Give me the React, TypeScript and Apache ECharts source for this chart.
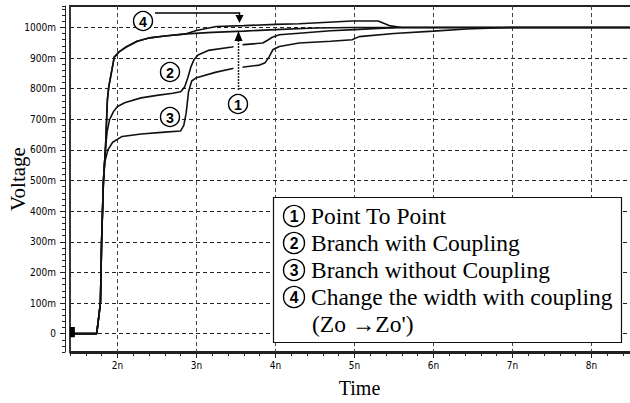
import React, { useEffect, useRef } from "react";
import * as echarts from "echarts";

// ---- data (time in ns, voltage in mV) ----
const xTickValues = [2, 3, 4, 5, 6, 7, 8];
const yTickValues = [0, 100, 200, 300, 400, 500, 600, 700, 800, 900, 1000];

const startMarker = [[1.43, -12], [1.43, 22]];

const pointToPoint = [
  [1.42, 0], [1.738, 0], [1.785, 100], [1.8, 300], [1.823, 500], [1.848, 600], [1.873, 763],
  [1.89, 805], [1.96, 903], [2.03, 922], [2.11, 936], [2.25, 955], [2.41, 966], [2.6, 972],
  [2.87, 979], [3.2, 984], [3.6, 988], [4.0, 993], [4.5, 998], [5.0, 1000], [8.5, 1000],
];

const branchWithCoupling = [
  [1.42, 0], [1.738, 0], [1.785, 100], [1.8, 300], [1.823, 500], [1.848, 600], [1.87, 660],
  [1.9, 698], [1.95, 725], [2.0, 742], [2.1, 755], [2.3, 770], [2.5, 778], [2.7, 785],
  [2.8, 790], [2.85, 805], [2.89, 835], [2.93, 871], [2.97, 895], [3.02, 910], [3.15, 925],
  [3.45, 936], [3.6, 944], [3.84, 949], [3.9, 958], [3.96, 968], [4.05, 976], [4.3, 981],
  [4.7, 989], [5.0, 993], [5.3, 997], [5.6, 1000], [8.5, 1000],
];

const branchWithoutCoupling = [
  [1.42, 0], [1.738, 0], [1.785, 100], [1.8, 300], [1.823, 490], [1.84, 560], [1.88, 600],
  [1.94, 625], [2.06, 644], [2.3, 652], [2.6, 658], [2.8, 662], [2.84, 680], [2.87, 720],
  [2.9, 790], [2.94, 825], [3.0, 836], [3.25, 854], [3.46, 866], [3.6, 871], [3.8, 877],
  [3.87, 885], [3.92, 904], [3.97, 928], [4.05, 938], [4.3, 949], [4.7, 955], [4.97, 960],
  [5.06, 970], [5.5, 980], [6.0, 988], [6.42, 995], [7.0, 1000], [8.5, 1000],
];

const changeWidth = [
  [1.42, 0], [1.738, 0], [1.785, 100], [1.8, 300], [1.823, 500], [1.848, 600], [1.873, 763],
  [1.89, 805], [1.96, 903], [2.03, 922], [2.11, 936], [2.25, 955], [2.41, 966], [2.6, 972],
  [2.87, 979], [3.0, 990], [3.25, 1003], [3.6, 1006], [4.0, 1010], [4.3, 1012], [4.97, 1021],
  [5.3, 1021], [5.44, 1006], [5.6, 1000], [8.5, 1000],
];

const legendNums = ["1", "2", "3", "4"];
const legendItems = [
  "Point To Point",
  "Branch with Coupling",
  "Branch without Coupling",
  "Change the width with coupling",
];
const legendExtra = "(Zo →Zo')";

const SERIF = "Liberation Serif";
const SANS = "Liberation Sans";
const NARROW = "DejaVu Sans Condensed";

export default function App() {
  const ref = useRef<HTMLDivElement>(null);

  useEffect(() => {
    if (!ref.current) return;
    const chart = echarts.init(ref.current, undefined, { renderer: "svg" });

    const lineSeries = (name: string, data: number[][]) => ({
      name,
      type: "line",
      data,
      xAxisIndex: 0,
      yAxisIndex: 0,
      showSymbol: false,
      symbol: "none",
      lineStyle: { color: "#111", width: 1.6 },
      z: 5,
    });

    // circled number: circle + digit
    const circ = (t: string, x: number, y: number, r: number, z: number) => [
      { type: "circle", z, shape: { cx: x, cy: y, r }, style: { fill: "#fff", stroke: "#000", lineWidth: 1.4 } },
      {
        type: "text", z: z + 1, x, y: y + 0.5,
        style: { text: t, fontFamily: SANS, fontSize: r * 1.5, fontWeight: "bold", fill: "#000", align: "center", verticalAlign: "middle" },
      },
    ];

    const legendLineY = [216, 243, 270, 297];
    const graphics: any[] = [
      // white gap behind arrow 1
      { type: "rect", z: 50, shape: { x: 233.5, y: 40, width: 9, height: 34 }, style: { fill: "#fff" } },
      // arrow 4
      { type: "polyline", z: 60, shape: { points: [[155, 13], [239.5, 13], [239.5, 17]] }, style: { stroke: "#000", lineWidth: 1.5, fill: null } },
      { type: "polygon", z: 60, shape: { points: [[235.5, 15], [243.5, 15], [239.5, 23]] }, style: { fill: "#000" } },
      // arrow 1
      { type: "line", z: 60, shape: { x1: 238.5, y1: 90, x2: 238.5, y2: 38 }, style: { stroke: "#222", lineWidth: 1.5, lineDash: [2, 1] } },
      { type: "polygon", z: 60, shape: { points: [[234.5, 41], [242.5, 41], [238.5, 31]] }, style: { fill: "#000" } },
      // circled labels in plot
      ...circ("4", 143, 21, 9.5, 60),
      ...circ("2", 170, 72, 9.5, 60),
      ...circ("3", 170, 117, 9.5, 60),
      ...circ("1", 238, 104, 9.5, 60),
      // legend box
      { type: "rect", z: 70, shape: { x: 273.5, y: 197.5, width: 348, height: 145 }, style: { fill: "#fff", stroke: "#111", lineWidth: 1.2 } },
    ];
    legendItems.forEach((txt, i) => {
      graphics.push(...circ(legendNums[i], 294, legendLineY[i], 10.5, 71));
      graphics.push({ type: "text", z: 71, x: 311, y: legendLineY[i], style: { text: txt, fontFamily: SERIF, fontSize: 23.5, lineHeight: 24, fill: "#000", align: "left", verticalAlign: "middle" } });
    });
    graphics.push({ type: "text", z: 71, x: 312, y: 324, style: { text: legendExtra, fontFamily: SERIF, fontSize: 23.5, lineHeight: 24, fill: "#000", align: "left", verticalAlign: "middle" } });

    const option: any = {
      animation: false,
      backgroundColor: "#fff",
      grid: {
        left: 70, top: 6, right: -1, bottom: 51,
        containLabel: false, outerBoundsMode: "none",
        show: true, borderColor: "#222", borderWidth: 1.8, backgroundColor: "transparent",
      },
      xAxis: [
        {
          type: "value", min: 1.4, max: 8.5, position: "bottom", offset: 1,
          name: "Time", nameLocation: "middle", nameGap: 25, nameMoveOverlap: false,
          nameTextStyle: { fontFamily: SERIF, fontSize: 20, color: "#000", padding: [0, 0, 0, 18] },
          axisLine: { show: true, onZero: false, lineStyle: { color: "#222", width: 1 } },
          axisTick: { show: true, length: 5, customValues: xTickValues, lineStyle: { color: "#222" } },
          axisLabel: { customValues: xTickValues, formatter: (v: number) => `${v}n`, margin: 7, fontFamily: NARROW, fontSize: 10, color: "#000" },
          splitLine: { show: true, lineStyle: { color: "#444", type: [4, 3], width: 1 } },
        },
        {
          type: "value", min: 1.4, max: 8.5, interval: 0.2, position: "bottom", offset: 1,
          axisLine: { show: false, onZero: false },
          axisTick: { show: true, length: 3, lineStyle: { color: "#222" } },
          axisLabel: { show: false },
          splitLine: { show: false },
        },
      ],
      yAxis: [
        {
          type: "value", min: -60, max: 1070, position: "left", offset: 5,
          name: "Voltage", nameLocation: "middle", nameGap: 37, nameMoveOverlap: false,
          nameTextStyle: { fontFamily: SERIF, fontSize: 21, color: "#000" },
          axisLine: { show: true, onZero: false, lineStyle: { color: "#222", width: 1 } },
          axisTick: { show: true, length: 5, customValues: yTickValues, lineStyle: { color: "#222" } },
          axisLabel: { customValues: yTickValues, formatter: (v: number) => (v === 0 ? "0" : `${v}m`), margin: 9, fontFamily: NARROW, fontSize: 10, color: "#000" },
          splitLine: { show: true, lineStyle: { color: "#222", type: [4, 3], width: 1 } },
        },
        {
          type: "value", min: -60, max: 1070, interval: 20, position: "left", offset: 5,
          axisLine: { show: false, onZero: false },
          axisTick: { show: true, length: 3, lineStyle: { color: "#222" } },
          axisLabel: { show: false },
          splitLine: { show: false },
        },
      ],
      series: [
        lineSeries("Point To Point", pointToPoint),
        lineSeries("Branch with Coupling", branchWithCoupling),
        lineSeries("Branch without Coupling", branchWithoutCoupling),
        lineSeries("Change the width with coupling", changeWidth),
        {
          name: "start", type: "line", data: startMarker, xAxisIndex: 0, yAxisIndex: 0,
          showSymbol: false, symbol: "none", lineStyle: { color: "#000", width: 5 }, z: 6,
        },
      ],
      graphic: graphics,
    };

    chart.setOption(option);
    return () => chart.dispose();
  }, []);

  return <div ref={ref} style={{ width: 630, height: 403, position: "absolute", left: 0, top: 0 }} />;
}
